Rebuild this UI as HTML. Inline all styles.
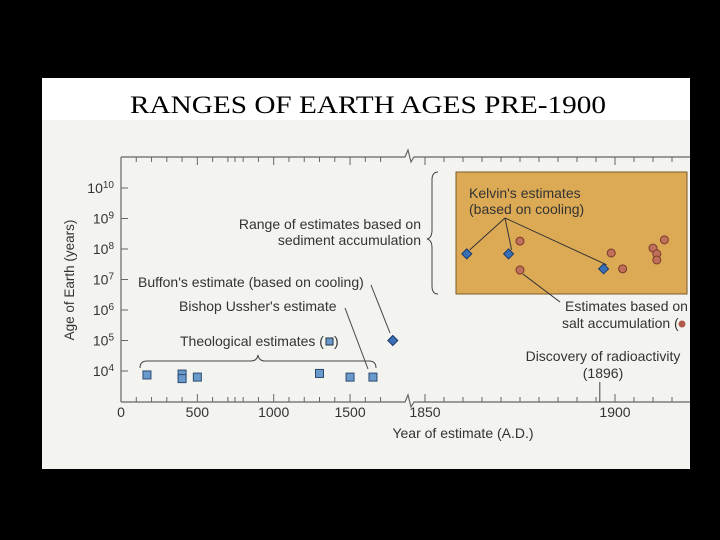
<!DOCTYPE html>
<html><head><meta charset="utf-8"><style>
body{margin:0;background:#000;width:720px;height:540px;overflow:hidden}
svg{display:block}
text{font-family:"Liberation Sans",sans-serif;fill:#333}
</style></head><body>
<svg id="chart" width="720" height="540" xmlns="http://www.w3.org/2000/svg">
<rect x="0" y="0" width="720" height="540" fill="#000"/>
<rect x="42" y="78" width="648" height="391" fill="#f3f3ef"/>
<rect x="42" y="78" width="648" height="42" fill="#fff"/>
<text x="130" y="113" textLength="476" lengthAdjust="spacingAndGlyphs" style="font-family:'Liberation Serif',serif;font-size:25px;fill:#000">RANGES OF EARTH AGES PRE-1900</text>
<rect x="456" y="172" width="231" height="122" fill="#dcaa55" stroke="#7a5a2a" stroke-width="1"/>
<g id="axes"></g>
<g id="marks"></g>
<g id="labels" font-size="14">
<text transform="translate(74,280) rotate(-90)" text-anchor="middle" font-size="13.5">Age of Earth (years)</text>
<text x="463" y="438" text-anchor="middle">Year of estimate (A.D.)</text>
<text x="421" y="229" text-anchor="end">Range of estimates based on</text>
<text x="421" y="245" text-anchor="end">sediment accumulation</text>
<path d="M438,172 q-6,0 -6,8 v50 q0,8 -5,9 q5,1 5,9 v38 q0,8 6,8" fill="none" stroke="#444"/>
<text x="138" y="287">Buffon's estimate (based on cooling)</text>
<line x1="371" y1="285" x2="390" y2="333" stroke="#444"/>
<text x="179" y="311">Bishop Ussher's estimate</text>
<line x1="345" y1="308" x2="368" y2="369" stroke="#444"/>
<text x="180" y="346">Theological estimates (</text>
<rect x="326" y="338" width="7" height="7" fill="#6a9acb" stroke="#234"/>
<text x="334" y="346">)</text>
<path d="M140,368 q0,-7 7,-7 h104 q6,0 7,-6 q1,6 7,6 h104 q7,0 7,7" fill="none" stroke="#444"/>
<text x="469" y="198">Kelvin's estimates</text>
<text x="469" y="214">(based on cooling)</text>
<text x="565" y="311">Estimates based on</text>
<text x="562" y="328">salt accumulation (</text>
<circle cx="682" cy="324" r="3.5" fill="#b05a4a"/>
<text x="603" y="361" text-anchor="middle">Discovery of radioactivity</text>
<text x="603" y="378" text-anchor="middle">(1896)</text>
</g>
</svg>
<script>
const theoYears=[170,400,400,500,1300,1500,1650];
const theoExp=[3.87,3.9,3.75,3.8,3.92,3.8,3.8];
const buffonYears=[1780];
const buffonExp=[5.0];
const kelvinYears=[1861,1872,1897];
const kelvinExp=[7.84,7.84,7.35];
const saltYears=[1875,1875,1899,1902,1910,1911,1911,1913];
const saltExp=[8.26,7.31,7.87,7.35,8.03,7.84,7.64,8.3];
const yTickExp=[4,5,6,7,8,9,10];
const xTickLeft=[0,500,1000,1500];
const xTickRight=[1850,1900];

const NS="http://www.w3.org/2000/svg";
function X(y){return y<1800? 121+y*0.1527 : 425+(y-1850)*3.8;}
function Y(e){return 371-(e-4)*30.5;}
function mk(tag,at,parent){const el=document.createElementNS(NS,tag);for(const k in at)el.setAttribute(k,at[k]);parent.appendChild(el);return el;}
const axes=document.getElementById('axes'),marks=document.getElementById('marks');
const ax='#666';
mk('path',{d:'M121,157 H405 l3,-7 l3,12 l3,-5 H690',fill:'none',stroke:ax,'stroke-width':1.2},axes);
mk('path',{d:'M121,402 H405 l3,-7 l3,12 l3,-5 H690',fill:'none',stroke:ax,'stroke-width':1.2},axes);
mk('line',{x1:121,y1:157,x2:121,y2:402,stroke:ax,'stroke-width':1.2},axes);
for(let y=100;y<=1800;y+=100){if(X(y)>403)break;
 mk('line',{x1:X(y),y1:402,x2:X(y),y2:(y%500?397:394),stroke:ax},axes);
 mk('line',{x1:X(y),y1:157,x2:X(y),y2:(y%500?162:165),stroke:ax},axes);}
for(let y=1845;y<=1925;y+=5){const x=X(y);if(x<416||x>690)continue;
 mk('line',{x1:x,y1:402,x2:x,y2:(y%50?397:394),stroke:ax},axes);
 mk('line',{x1:x,y1:157,x2:x,y2:(y%50?162:165),stroke:ax},axes);}
mk('line',{x1:X(1896),y1:402,x2:X(1896),y2:382,stroke:'#444'},axes);
yTickExp.forEach(e=>{
 const l=mk('line',{x1:121,y1:Y(e),x2:128,y2:Y(e),stroke:ax},axes);
 
 
 const t=mk('text',{x:114,y:Y(e)+5,'text-anchor':'end','font-size':14},axes);
 
 
 t.textContent='10';
 const s=mk('tspan',{dy:-5,'font-size':10},t);s.textContent=e;
});
xTickLeft.concat(xTickRight).forEach(v=>{
 const t=mk('text',{x:X(v),y:417,'text-anchor':'middle','font-size':14},axes);
 
 
 t.textContent=v;
});
const kx=505,ky=218;
kelvinYears.forEach((y,i)=>{mk('line',{x1:kx,y1:ky,x2:X(y)+3,y2:Y(kelvinExp[i])-4,stroke:'#333'},marks);});
mk('line',{x1:X(1875)+3,y1:Y(7.31)+4,x2:560,y2:302,stroke:'#333'},marks);
theoYears.forEach((y,i)=>{
 const r=mk('rect',{x:X(y)-4,y:Y(theoExp[i])-4,width:8,height:8,fill:'#6a9acb',stroke:'#2a4a70'},marks);
 
 
});
function dia(x,y,n){const p=mk('polygon',{points:`${x},${y-5} ${x+5},${y} ${x},${y+5} ${x-5},${y}`,fill:'#3a6fb5',stroke:'#1a3a6a'},marks);
 
 }
buffonYears.forEach((y,i)=>dia(X(y),Y(buffonExp[i]),'buffon-point'));
kelvinYears.forEach((y,i)=>dia(X(y),Y(kelvinExp[i]),'kelvin-point'));
saltYears.forEach((y,i)=>{
 const c=mk('circle',{cx:X(y),cy:Y(saltExp[i]),r:4,fill:'#c0705a',stroke:'#7a3a2a'},marks);
 
 
});
</script>
</body></html>
